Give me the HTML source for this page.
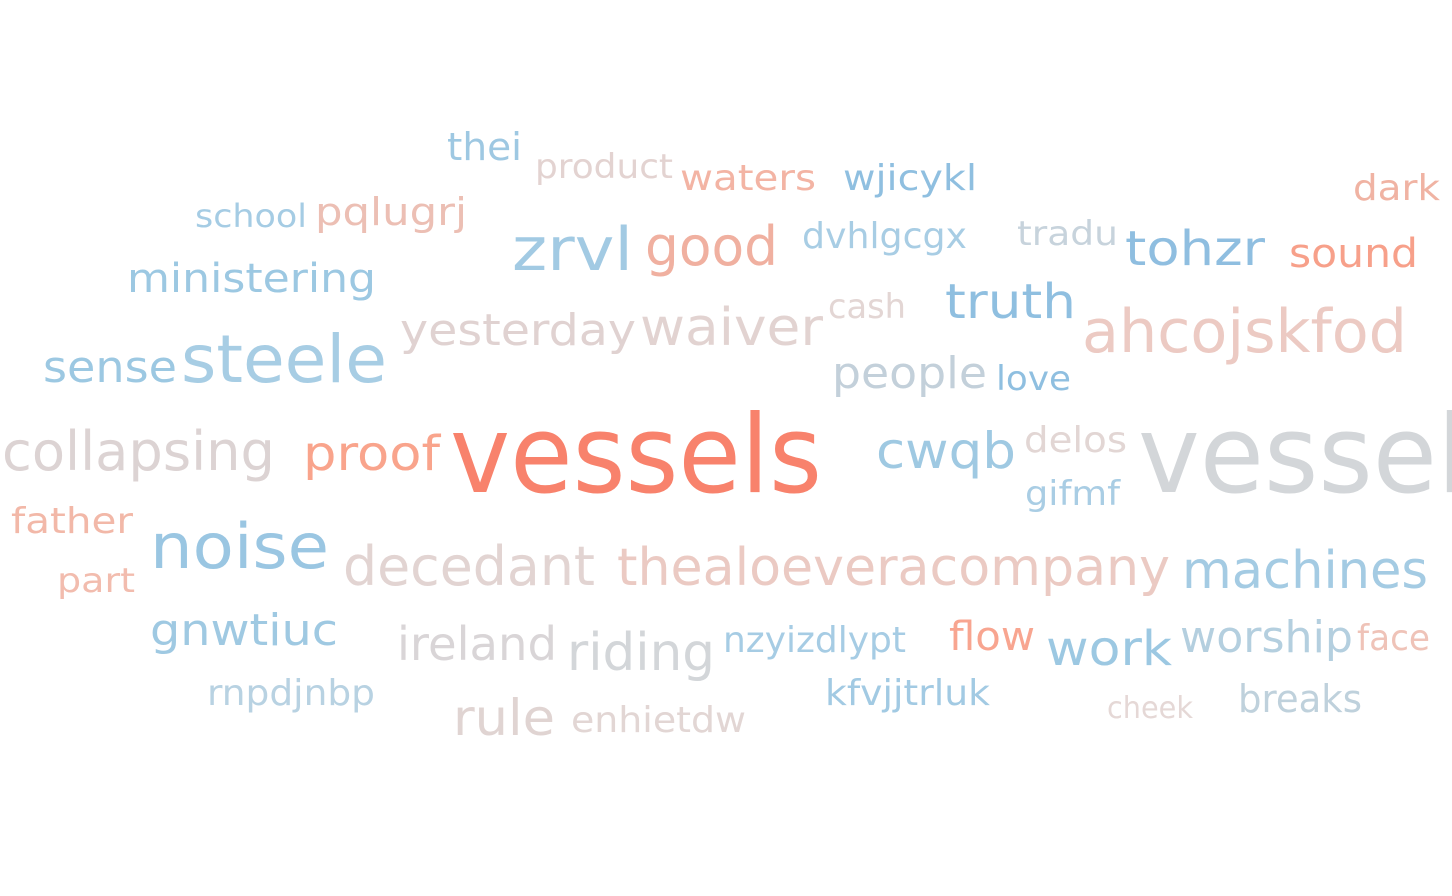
<!DOCTYPE html>
<html><head><meta charset="utf-8">
<style>
html,body{margin:0;padding:0;background:#fff;}
svg{display:block;}
text{font-family:"DejaVu Sans","Liberation Sans",sans-serif;}
</style></head>
<body>
<svg id="cloud" width="1452" height="896" viewBox="0 0 1452 896" xmlns="http://www.w3.org/2000/svg"></svg>
<script>
const words = ["thei","product","waters","wjicykl","dark","school","pqlugrj","zrvl","good","dvhlgcgx","tradu","tohzr","sound","ministering","truth","cash","yesterday","waiver","ahcojskfod","sense","steele","people","love","collapsing","proof","vessels","cwqb","delos","vessel","gifmf","father","noise","decedant","thealoeveracompany","machines","part","gnwtiuc","ireland","riding","nzyizdlypt","flow","work","worship","face","rnpdjnbp","kfvjjtrluk","cheek","breaks","rule","enhietdw"];
const sizes = [38,34,36,36,36,32,38,60,54,36,34,48,40,40,48,34,44,52,60,44,66,44,34,54,48,108,50,36,108,34,36,62,54,52,52,34,44,46,52,36,40,48,44,36,36,36,30,38,50,36];
const colors = ["#9ec8e2","#e3d3d1","#f3b4a4","#8fbfe0","#f0b3a3","#a5cce4","#ecbfb4","#a2cae3","#f0b0a0","#a8cde4","#c7d3dc","#8fbee0","#f7a08a","#9cc8e2","#8fbfe0","#e3d6d4","#e0d2d1","#e2d3d1","#eccac3","#9cc8e2","#a7cde4","#c3d0da","#8fbfe0","#dcd3d3","#f9a48c","#f8826c","#9fc9e2","#e2d6d4","#d3d6d9","#a9cde4","#f2b8a8","#9ac6e2","#e2d4d2","#ebcac3","#a4cbe3","#f2bcae","#9fc9e2","#d9d5d7","#d3d6d9","#a6cce4","#f8a590","#9cc8e2","#b4cfdf","#efc3b8","#b8d2e2","#a2cae3","#e5d8d6","#bfd1dc","#e0d4d2","#e2d6d4"];
// layout: x start, baseline, rendered width
const xs = [447,535,680,843,1353,195,315,512,645,802,1017,1125,1289,127,945,828,400,640,1082,43,181,832,996,2,303,450,876,1024,1138,1025,11,150,343,617,1182,57,150,397,567,723,949,1046,1180,1357,207,825,1107,1238,453,571];
const ys = [160,178,190,190,200,227,225,270,265,248,245,265,267,292,318,318,345,345,352,382,382,388,390,470,470,492,468,452,492,505,533,568,585,585,588,592,645,660,670,652,650,665,652,650,705,705,718,712,735,732];
const ws = [75,138,136,134,87,112,152,121,133,165,101,140,129,249,131,78,236,183,325,134,206,155,75,273,137,372,140,103,328,95,122,179,252,553,246,78,188,160,148,183,86,126,173,73,168,165,86,124,102,175];
const svg = document.getElementById('cloud');
for (let i = 0; i < words.length; i++) {
  const t = document.createElementNS('http://www.w3.org/2000/svg','text');
  t.setAttribute('x', xs[i]);
  t.setAttribute('y', ys[i]);
  t.setAttribute('font-size', sizes[i]);
  t.setAttribute('fill', colors[i]);
  t.setAttribute('textLength', ws[i]);
  t.setAttribute('lengthAdjust', 'spacingAndGlyphs');
  t.textContent = words[i];
  
  
  svg.appendChild(t);
}
</script>
</body></html>
